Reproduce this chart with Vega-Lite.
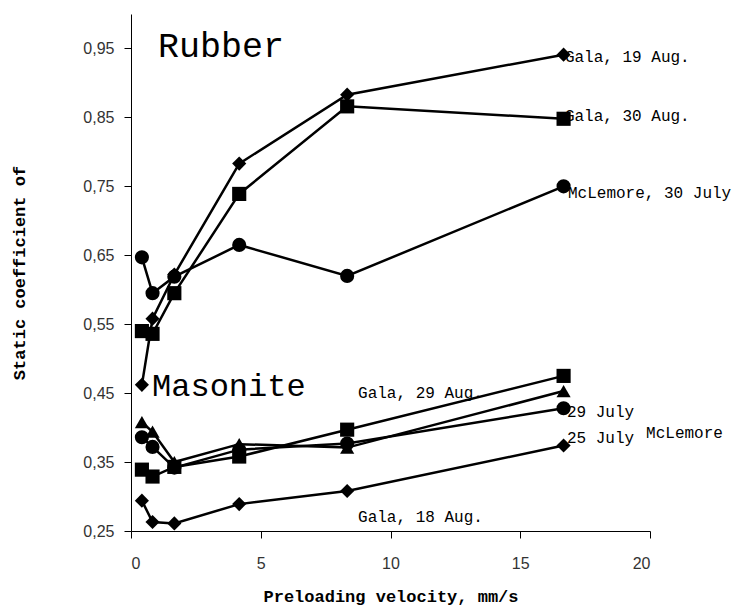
{
  "$schema": "https://vega.github.io/schema/vega-lite/v6.json",
  "width": 519,
  "height": 517,
  "autosize": {"type": "none"},
  "padding": {"left": 131, "top": 14, "right": 102, "bottom": 78},
  "background": "white",
  "config": {
    "view": {"stroke": null},
    "axis": {
      "grid": false,
      "domainColor": "black",
      "domainWidth": 1,
      "tickColor": "black",
      "tickWidth": 1,
      "tickSize": 7,
      "labelFont": "Liberation Sans",
      "labelFontSize": 16,
      "labelColor": "#333333",
      "titleFont": "Liberation Mono",
      "titleFontWeight": "bold",
      "titleFontSize": 17,
      "titleColor": "black"
    }
  },
  "datasets": {
    "series": [
      {"series": "Rubber Gala 19 Aug", "marker": "diamond", "v": 0.42, "mu": 0.462},
      {"series": "Rubber Gala 19 Aug", "marker": "diamond", "v": 0.83, "mu": 0.558},
      {"series": "Rubber Gala 19 Aug", "marker": "diamond", "v": 1.67, "mu": 0.622},
      {"series": "Rubber Gala 19 Aug", "marker": "diamond", "v": 4.17, "mu": 0.783},
      {"series": "Rubber Gala 19 Aug", "marker": "diamond", "v": 8.33, "mu": 0.883},
      {"series": "Rubber Gala 19 Aug", "marker": "diamond", "v": 16.67, "mu": 0.941},
      {"series": "Rubber Gala 30 Aug", "marker": "square", "v": 0.42, "mu": 0.540},
      {"series": "Rubber Gala 30 Aug", "marker": "square", "v": 0.83, "mu": 0.536},
      {"series": "Rubber Gala 30 Aug", "marker": "square", "v": 1.67, "mu": 0.595},
      {"series": "Rubber Gala 30 Aug", "marker": "square", "v": 4.17, "mu": 0.739},
      {"series": "Rubber Gala 30 Aug", "marker": "square", "v": 8.33, "mu": 0.866},
      {"series": "Rubber Gala 30 Aug", "marker": "square", "v": 16.67, "mu": 0.848},
      {"series": "Rubber McLemore 30 July", "marker": "circle", "v": 0.42, "mu": 0.647},
      {"series": "Rubber McLemore 30 July", "marker": "circle", "v": 0.83, "mu": 0.595},
      {"series": "Rubber McLemore 30 July", "marker": "circle", "v": 1.67, "mu": 0.619},
      {"series": "Rubber McLemore 30 July", "marker": "circle", "v": 4.17, "mu": 0.665},
      {"series": "Rubber McLemore 30 July", "marker": "circle", "v": 8.33, "mu": 0.620},
      {"series": "Rubber McLemore 30 July", "marker": "circle", "v": 16.67, "mu": 0.750},
      {"series": "Masonite Gala 29 Aug", "marker": "square", "v": 0.42, "mu": 0.339},
      {"series": "Masonite Gala 29 Aug", "marker": "square", "v": 0.83, "mu": 0.329},
      {"series": "Masonite Gala 29 Aug", "marker": "square", "v": 1.67, "mu": 0.343},
      {"series": "Masonite Gala 29 Aug", "marker": "square", "v": 4.17, "mu": 0.358},
      {"series": "Masonite Gala 29 Aug", "marker": "square", "v": 8.33, "mu": 0.397},
      {"series": "Masonite Gala 29 Aug", "marker": "square", "v": 16.67, "mu": 0.475},
      {"series": "Masonite McLemore 29 July", "marker": "triangle-up", "v": 0.42, "mu": 0.408},
      {"series": "Masonite McLemore 29 July", "marker": "triangle-up", "v": 0.83, "mu": 0.394},
      {"series": "Masonite McLemore 29 July", "marker": "triangle-up", "v": 1.67, "mu": 0.350},
      {"series": "Masonite McLemore 29 July", "marker": "triangle-up", "v": 4.17, "mu": 0.376},
      {"series": "Masonite McLemore 29 July", "marker": "triangle-up", "v": 8.33, "mu": 0.371},
      {"series": "Masonite McLemore 29 July", "marker": "triangle-up", "v": 16.67, "mu": 0.453},
      {"series": "Masonite McLemore 25 July", "marker": "circle", "v": 0.42, "mu": 0.386},
      {"series": "Masonite McLemore 25 July", "marker": "circle", "v": 0.83, "mu": 0.372},
      {"series": "Masonite McLemore 25 July", "marker": "circle", "v": 1.67, "mu": 0.342},
      {"series": "Masonite McLemore 25 July", "marker": "circle", "v": 4.17, "mu": 0.368},
      {"series": "Masonite McLemore 25 July", "marker": "circle", "v": 8.33, "mu": 0.377},
      {"series": "Masonite McLemore 25 July", "marker": "circle", "v": 16.67, "mu": 0.428},
      {"series": "Masonite Gala 18 Aug", "marker": "diamond", "v": 0.42, "mu": 0.294},
      {"series": "Masonite Gala 18 Aug", "marker": "diamond", "v": 0.83, "mu": 0.263},
      {"series": "Masonite Gala 18 Aug", "marker": "diamond", "v": 1.67, "mu": 0.261},
      {"series": "Masonite Gala 18 Aug", "marker": "diamond", "v": 4.17, "mu": 0.289},
      {"series": "Masonite Gala 18 Aug", "marker": "diamond", "v": 8.33, "mu": 0.308},
      {"series": "Masonite Gala 18 Aug", "marker": "diamond", "v": 16.67, "mu": 0.374}
    ],
    "labels": [
      {"text": "Gala, 19 Aug.", "v": 16.72, "mu": 0.931},
      {"text": "Gala, 30 Aug.", "v": 16.72, "mu": 0.845},
      {"text": "McLemore, 30 July", "v": 16.84, "mu": 0.733},
      {"text": "Gala, 29 Aug.", "v": 8.75, "mu": 0.443},
      {"text": "Gala, 18 Aug.", "v": 8.75, "mu": 0.263},
      {"text": "29 July", "v": 16.8, "mu": 0.4155},
      {"text": "25 July", "v": 16.8, "mu": 0.378},
      {"text": "McLemore", "v": 19.85, "mu": 0.385}
    ],
    "big": [
      {"text": "Rubber", "v": 1.04, "mu": 0.938, "fs": 35},
      {"text": "Masonite", "v": 0.81, "mu": 0.446, "fs": 32}
    ]
  },
  "layer": [
    {
      "data": {"name": "series"},
      "mark": {"type": "line", "color": "black", "strokeWidth": 2.5},
      "encoding": {
        "x": {
          "field": "v", "type": "quantitative",
          "scale": {"domain": [0, 20], "nice": false, "zero": false},
          "axis": {"values": [0, 5, 10, 15, 20], "title": "Preloading velocity, mm/s", "labelPadding": 17, "titlePadding": 17}
        },
        "y": {
          "field": "mu", "type": "quantitative",
          "scale": {"domain": [0.25, 1.0], "nice": false, "zero": false},
          "axis": {"values": [0.25, 0.35, 0.45, 0.55, 0.65, 0.75, 0.85, 0.95], "format": ".2f", "labelExpr": "replace(datum.label, '.', ',')", "title": "Static coefficient of", "labelPadding": 10, "titlePadding": 54}
        },
        "detail": {"field": "series"}
      }
    },
    {
      "data": {"name": "series"},
      "mark": {"type": "point", "filled": true, "color": "black", "opacity": 1, "size": 200},
      "encoding": {
        "x": {"field": "v", "type": "quantitative"},
        "y": {"field": "mu", "type": "quantitative"},
        "shape": {
          "field": "marker", "type": "nominal",
          "scale": {"domain": ["diamond", "square", "circle", "triangle-up"], "range": ["diamond", "square", "circle", "triangle-up"]},
          "legend": null
        }
      }
    },
    {
      "data": {"name": "labels"},
      "mark": {"type": "text", "align": "left", "baseline": "alphabetic", "font": "Liberation Mono", "fontSize": 16, "color": "black"},
      "encoding": {
        "x": {"field": "v", "type": "quantitative"},
        "y": {"field": "mu", "type": "quantitative"},
        "text": {"field": "text"}
      }
    },
    {
      "data": {"name": "big"},
      "mark": {"type": "text", "align": "left", "baseline": "alphabetic", "font": "Liberation Mono", "color": "black"},
      "encoding": {
        "x": {"field": "v", "type": "quantitative"},
        "y": {"field": "mu", "type": "quantitative"},
        "text": {"field": "text"},
        "size": {"field": "fs", "type": "quantitative", "scale": null}
      }
    }
  ]
}
